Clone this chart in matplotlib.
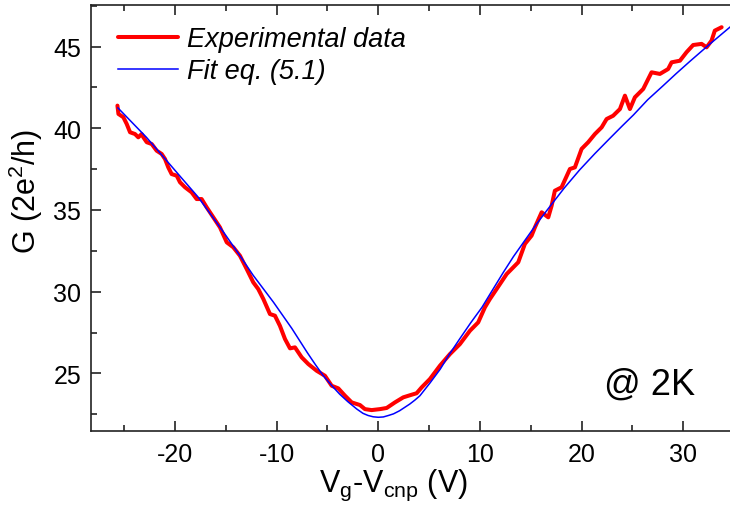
import matplotlib
matplotlib.use("Agg")
import matplotlib.pyplot as plt
from matplotlib.ticker import MultipleLocator

# ---- data ----
v_exp = [-25.65, -25.55, -25.07, -24.74, -24.41, -23.92, -23.6, -23.27, -23.1, -22.77,
         -22.28, -21.79, -21.3, -20.97, -20.65, -20.32, -19.82, -19.5, -19.0, -18.35,
         -17.86, -17.37, -16.87, -16.22, -15.57, -14.9, -14.26, -13.6, -12.94, -12.29,
         -11.8, -11.3, -10.65, -10.16, -9.67, -9.17, -8.68, -8.19, -7.53, -6.88,
         -6.06, -5.24, -4.58, -3.93, -3.27, -2.61, -1.8, -1.31, -0.65, 0.17,
         0.83, 1.64, 2.46, 3.28, 3.77, 4.27, 5.08, 6.07, 7.05, 8.03,
         9.02, 9.83, 10.49, 10.98, 11.64, 12.63, 13.77, 14.42, 15.08, 15.41,
         16.07, 16.72, 17.05, 17.37, 18.03, 18.85, 19.34, 20.0, 20.65, 21.31,
         21.97, 22.46, 23.1, 23.77, 24.26, 24.75, 25.24, 26.06, 26.88, 27.7,
         28.51, 28.85, 29.67, 30.32, 30.97, 31.8, 32.29, 32.78, 33.1, 33.77]
g_exp = [41.39, 40.88, 40.68, 40.27, 39.76, 39.65, 39.45, 39.65, 39.45, 39.15,
         39.04, 38.63, 38.43, 38.12, 37.61, 37.2, 37.1, 36.7, 36.39, 36.08,
         35.67, 35.67, 35.16, 34.55, 33.94, 33.02, 32.72, 32.2, 31.39, 30.57,
         30.16, 29.55, 28.63, 28.53, 27.91, 27.1, 26.53, 26.59, 25.98, 25.57,
         25.16, 24.85, 24.24, 24.08, 23.63, 23.22, 23.06, 22.81, 22.75, 22.81,
         22.88, 23.22, 23.53, 23.69, 23.78, 24.14, 24.65, 25.47, 26.18, 26.79,
         27.61, 28.12, 29.04, 29.55, 30.16, 31.08, 31.8, 32.92, 33.43, 33.94,
         34.86, 34.55, 35.26, 36.18, 36.39, 37.51, 37.61, 38.74, 39.15, 39.65,
         40.06, 40.57, 40.77, 41.18, 42.0, 41.18, 41.9, 42.41, 43.43, 43.33,
         43.63, 44.04, 44.14, 44.66, 45.1, 45.17, 44.96, 45.37, 45.98, 46.19]

v_fit = [-25.6, -22.8, -21.1, -19.4, -17.7, -15.2, -13.6, -12.3, -10.3, -9.4,
         -8.5, -7.0, -6.2, -5.4, -4.6, -3.8, -3.0, -2.1, -1.5, -1.0,
         -0.5, 0.0, 0.5, 1.0, 1.5, 2.1, 3.1, 3.6, 4.1, 5.1,
         6.1, 7.0, 8.0, 9.1, 10.2, 11.0, 12.3, 13.3, 14.4, 15.6,
         16.9, 18.3, 19.8, 21.3, 22.8, 24.0, 25.1, 26.5, 28.0, 29.3,
         30.65, 32.5, 35.0]
g_fit = [41.25, 39.45, 38.23, 37.0, 35.78, 33.63, 32.2, 31.0, 29.35, 28.55,
         27.75, 26.29, 25.55, 24.85, 24.27, 23.73, 23.27, 22.81, 22.55, 22.42,
         22.34, 22.31, 22.33, 22.42, 22.52, 22.71, 23.12, 23.36, 23.63, 24.42,
         25.26, 26.17, 27.1, 28.1, 29.04, 29.86, 31.18, 32.15, 33.12, 34.17,
         35.23, 36.35, 37.45, 38.45, 39.4, 40.15, 40.82, 41.75, 42.6, 43.35,
         44.1, 45.1, 46.41]

x_ticks = [-20, -10, 0, 10, 20, 30]
y_ticks = [25, 30, 35, 40, 45]
labels = ["Experimental data", "Fit eq. (5.1)"]

plt.rcParams["font.family"] = ["Liberation Sans", "DejaVu Sans"]
plt.rcParams["mathtext.fontset"] = "custom"
plt.rcParams["mathtext.rm"] = "Liberation Sans"
plt.rcParams["mathtext.it"] = "Liberation Sans:italic"
plt.rcParams["axes.unicode_minus"] = False

fig = plt.figure(figsize=(7.3, 5.06), dpi=100)
ax = fig.add_axes([91 / 730, 74 / 506, 0.881, 426 / 506])

ax.plot(v_exp, g_exp, color="#ff0000", lw=2.9, solid_joinstyle="round",
        solid_capstyle="round", label=labels[0], zorder=2)
ax.plot(v_fit, g_fit, color="#0000ff", lw=1.1, label=labels[1], zorder=3)

ax.set_xlim(-28.25, 35.0)
ax.set_ylim(21.47, 47.55)
ax.set_xticks(x_ticks)
ax.set_yticks(y_ticks)
ax.xaxis.set_minor_locator(MultipleLocator(5))
ax.yaxis.set_minor_locator(MultipleLocator(2.5))

for s in ax.spines.values():
    s.set_linewidth(1.2)
    s.set_color("#222222")
ax.spines["right"].set_visible(False)

ax.tick_params(which="both", direction="in", top=True, right=False,
               labelsize=18, width=1.2, color="#222222")
ax.tick_params(which="major", length=7)
ax.tick_params(which="minor", length=4.5)
ax.tick_params(axis="x", which="major", pad=8)
ax.tick_params(axis="y", which="major", pad=7)

ax.set_xlabel(r"V$_{\mathrm{g}}$-V$_{\mathrm{cnp}}$ (V)", fontsize=22)
ax.set_ylabel(r"G (2e$^{2}$/h)", fontsize=22)
ax.xaxis.set_label_coords(0.47, -0.085)
ax.yaxis.set_label_coords(-0.072, 0.565)

leg = ax.legend(loc="upper left", bbox_to_anchor=(0.042, 0.95), frameon=False,
                borderpad=0, borderaxespad=0, handlelength=2.2, handletextpad=0.35,
                labelspacing=0.22, prop={"style": "italic", "size": 19.5})

ax.text(31.14, 23.73, "@ 2K", fontsize=26, ha="right", va="baseline")

fig.savefig("out.png", dpi=100)
